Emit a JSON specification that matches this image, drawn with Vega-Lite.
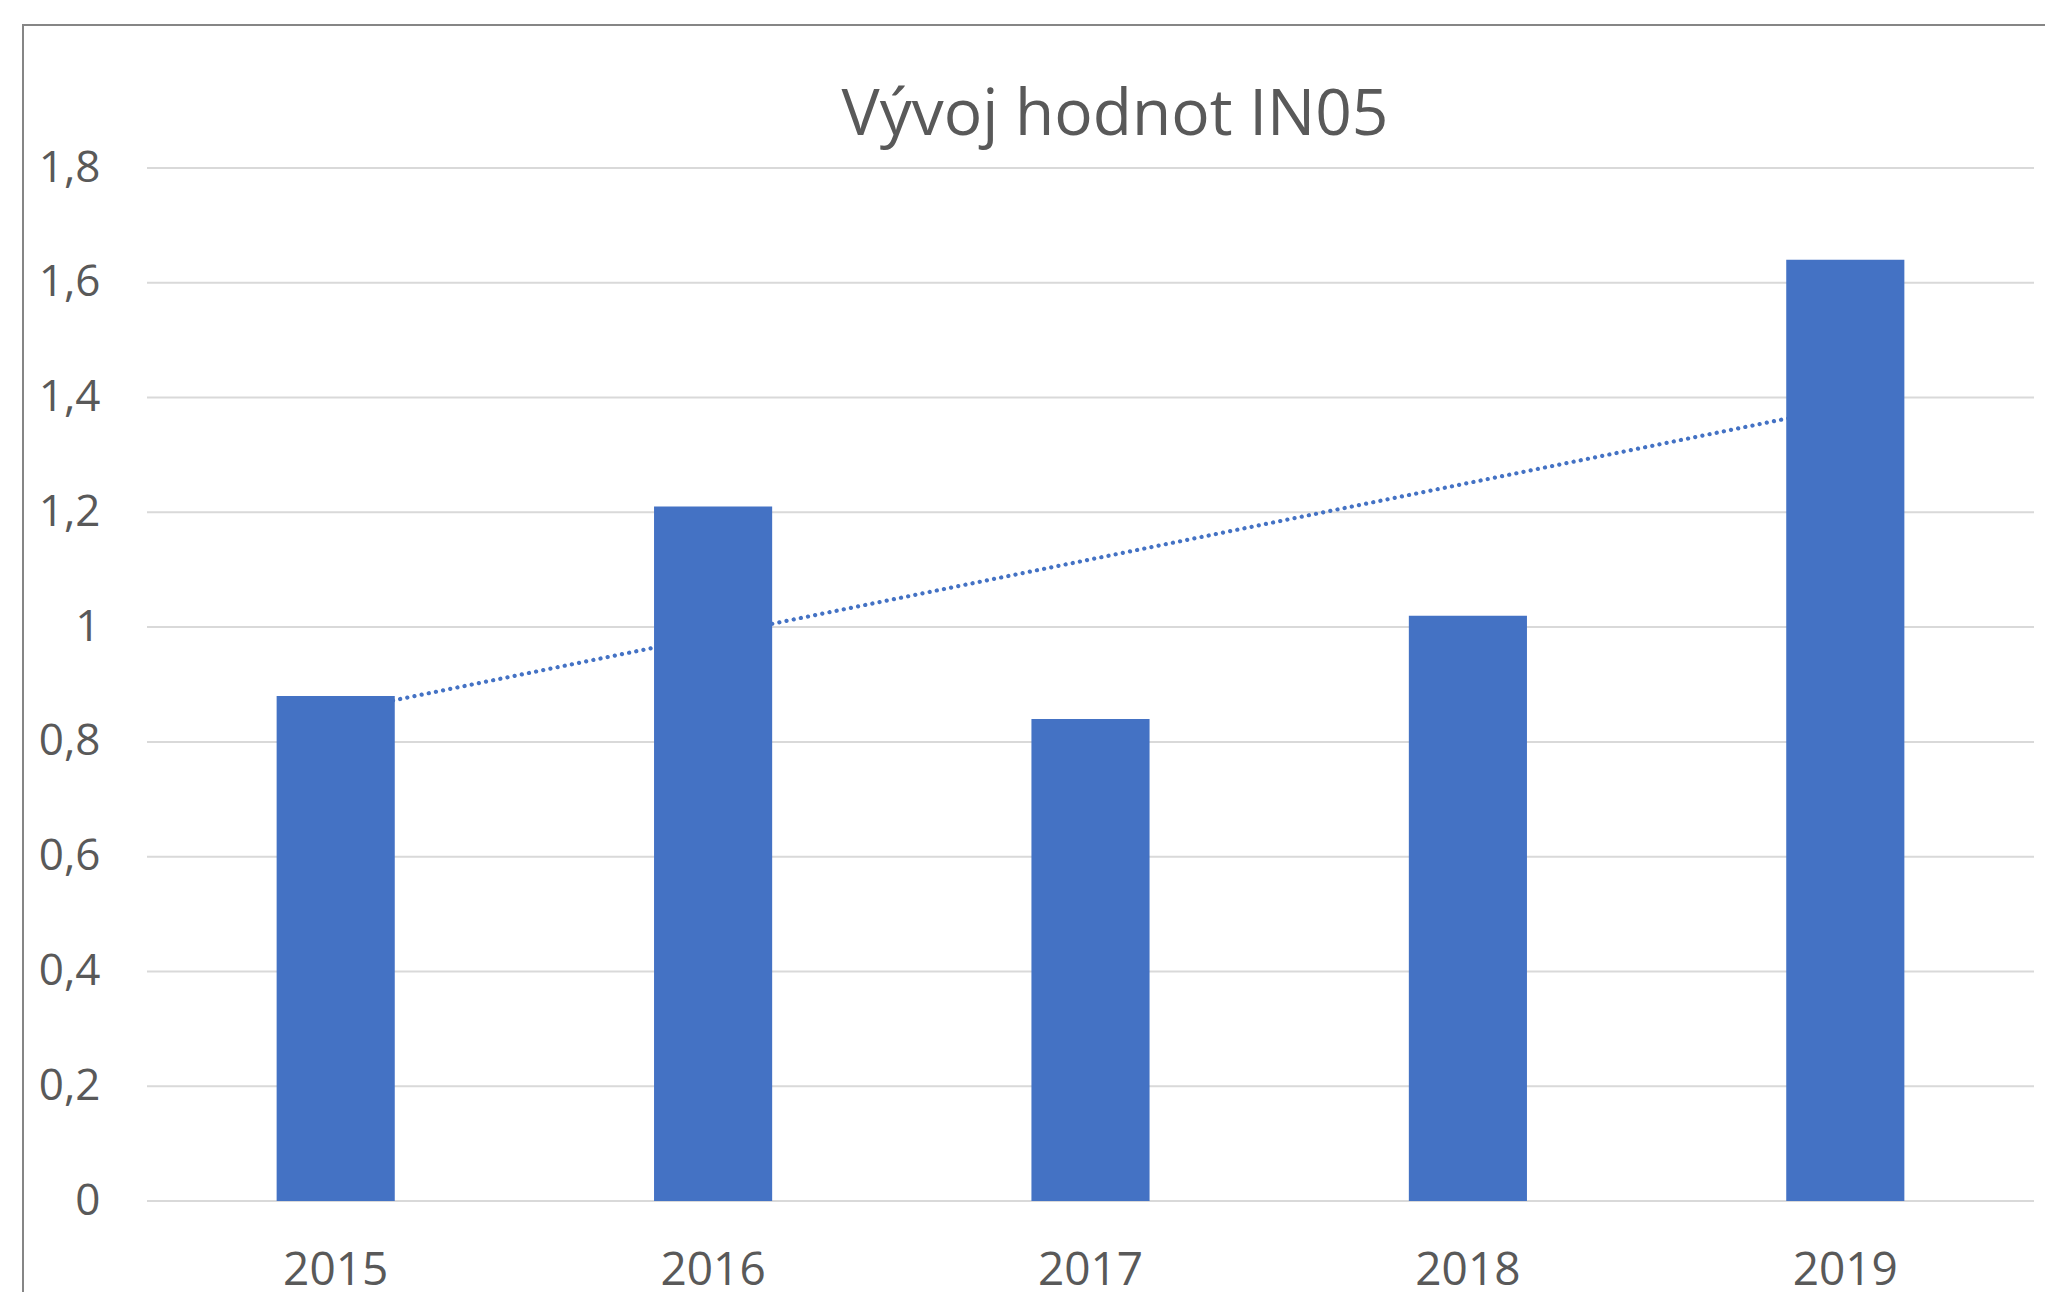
{
  "$schema": "https://vega.github.io/schema/vega-lite/v6.json",
  "autosize": {"type": "none"},
  "width": 2030,
  "height": 1280,
  "padding": {"left": 23, "top": 25, "right": 0, "bottom": 0},
  "background": "white",
  "config": {"view": {"stroke": "#868686", "strokeWidth": 2}, "font": "Open Sans"},
  "title": {"text": "Vývoj hodnot IN05", "fontSize": 64, "font": "Open Sans", "fontWeight": "normal", "color": "#595959", "baseline": "alphabetic", "offset": -174, "dx": 77, "anchor": "middle"},
  "datasets": {
    "values": [
      {"year": 2015, "value": 0.88},
      {"year": 2016, "value": 1.21},
      {"year": 2017, "value": 0.84},
      {"year": 2018, "value": 1.02},
      {"year": 2019, "value": 1.64}
    ],
    "trend": [
      {"year": 2015, "trend": 0.852},
      {"year": 2019, "trend": 1.384}
    ],
    "grid": [
      {"v": 0}, {"v": 0.2}, {"v": 0.4}, {"v": 0.6}, {"v": 0.8},
      {"v": 1}, {"v": 1.2}, {"v": 1.4}, {"v": 1.6}, {"v": 1.8}
    ]
  },
  "layer": [
    {
      "data": {"name": "grid"},
      "mark": {"type": "rule", "color": "#D9D9D9", "strokeWidth": 2},
      "encoding": {
        "x": {"datum": 2015, "type": "ordinal", "bandPosition": 0},
        "x2": {"datum": 2019, "bandPosition": 1},
        "y": {"field": "v", "type": "quantitative"}
      }
    },
    {
      "data": {"name": "trend"},
      "mark": {"type": "line", "color": "#4472C4", "strokeWidth": 4.2, "strokeDash": [0.1, 7.2], "strokeCap": "round"},
      "encoding": {
        "x": {"field": "year", "type": "ordinal"},
        "y": {"field": "trend", "type": "quantitative"}
      }
    },
    {
      "data": {"name": "values"},
      "mark": {"type": "bar", "color": "#4472C4", "width": {"band": 0.313}},
      "encoding": {
        "x": {
          "field": "year", "type": "ordinal",
          "scale": {"domain": [2015, 2016, 2017, 2018, 2019], "range": [124, 2011], "paddingInner": 0, "paddingOuter": 0},
          "axis": {"title": null, "domain": false, "ticks": false, "grid": false, "labelAngle": 0, "labelAlign": "center", "bandPosition": 0.5, "labelFontSize": 46, "labelColor": "#595959", "labelFont": "Open Sans", "labelPadding": 69, "offset": -104}
        },
        "y": {
          "field": "value", "type": "quantitative",
          "scale": {"domain": [0, 1.8], "range": [1176, 143], "nice": false, "zero": true},
          "axis": {"title": null, "domain": false, "ticks": false, "grid": false, "values": [0, 0.2, 0.4, 0.6, 0.8, 1, 1.2, 1.4, 1.6, 1.8], "format": "~g", "labelExpr": "replace(datum.label, '.', ',')", "labelFontSize": 44, "labelColor": "#595959", "labelFont": "Open Sans", "labelPadding": 47, "offset": -124}
        }
      }
    }
  ]
}
